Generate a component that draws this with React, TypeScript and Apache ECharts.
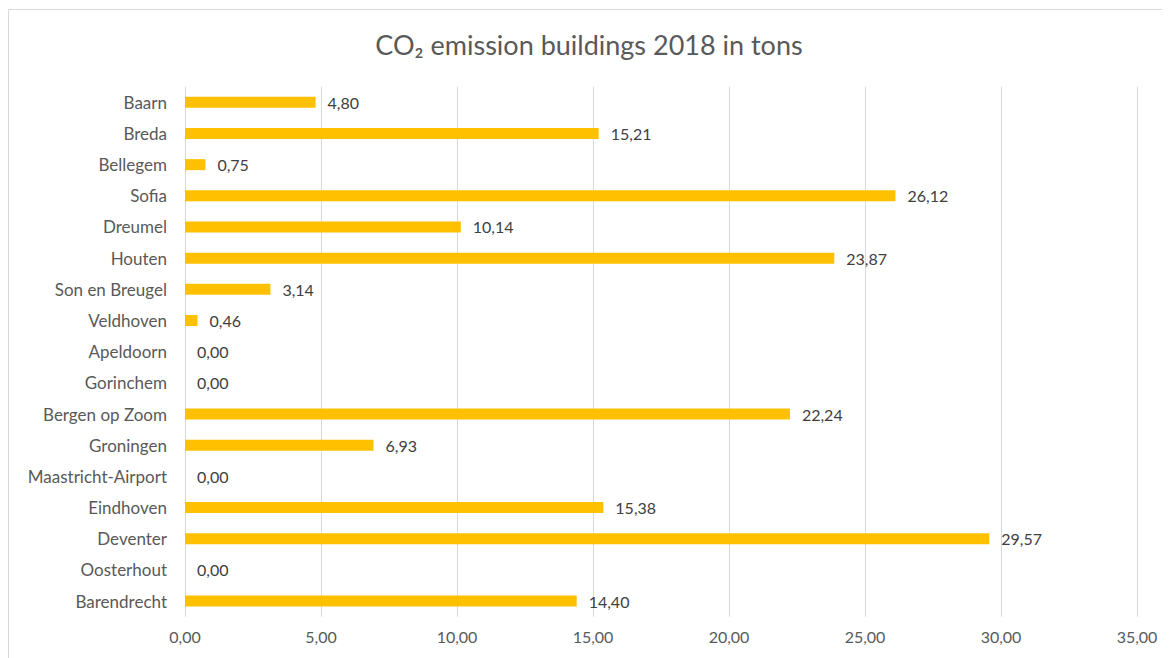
import React, { useEffect, useRef } from "react";
import * as echarts from "echarts";

const categories = [
  "Baarn", "Breda", "Bellegem", "Sofia", "Dreumel", "Houten", "Son en Breugel",
  "Veldhoven", "Apeldoorn", "Gorinchem", "Bergen op Zoom", "Groningen",
  "Maastricht-Airport", "Eindhoven", "Deventer", "Oosterhout", "Barendrecht",
];
const values = [4.8, 15.21, 0.75, 26.12, 10.14, 23.87, 3.14, 0.46, 0, 0, 22.24, 6.93, 0, 15.38, 29.57, 0, 14.4];
const title = "CO₂ emission buildings 2018 in tons";

const fmt = (v: number) => v.toFixed(2).replace(".", ",");

export default function App() {
  const ref = useRef<HTMLDivElement>(null);
  useEffect(() => {
    if (!ref.current) return;
    const chart = echarts.init(ref.current, null, { renderer: "svg" });
    const font = "Lato, 'Noto Sans', sans-serif";
    chart.setOption({
      animation: false,
      backgroundColor: "#ffffff",
      title: {
        text: title,
        left: "center",
        top: 18,
        textStyle: { fontFamily: font, fontSize: 27, fontWeight: "normal", color: "#595959" },
      },
      graphic: [
        {
          type: "rect",
          shape: { x: 0.5, y: 1.5, width: 2000, height: 2000 },
          style: { fill: "none", stroke: "#d9d9d9", lineWidth: 1 },
          silent: true,
        },
      ],
      grid: { left: 177, right: 33, top: 78.7, bottom: 41.3, containLabel: false },
      xAxis: {
        type: "value",
        min: 0,
        max: 35,
        interval: 5,
        axisLine: { show: false },
        axisTick: { show: false },
        splitLine: { lineStyle: { color: "#d9d9d9", width: 1 } },
        axisLabel: { formatter: (v: number) => fmt(v), fontFamily: font, fontSize: 16, color: "#595959", margin: 12 },
      },
      yAxis: {
        type: "category",
        data: categories,
        inverse: true,
        axisLine: { show: false },
        axisTick: { show: false },
        axisLabel: { fontFamily: font, fontSize: 17, color: "#595959", margin: 18 },
      },
      series: [
        {
          type: "bar",
          data: values,
          barWidth: 11,
          itemStyle: { color: "#FFC000" },
          label: {
            show: true,
            position: "right",
            distance: 12,
            formatter: (p: any) => fmt(p.value),
            fontFamily: font,
            fontSize: 16,
            color: "#404040",
          },
        },
      ],
    });
    return () => chart.dispose();
  }, []);
  return <div ref={ref} style={{ width: 1162, height: 650 }} />;
}
